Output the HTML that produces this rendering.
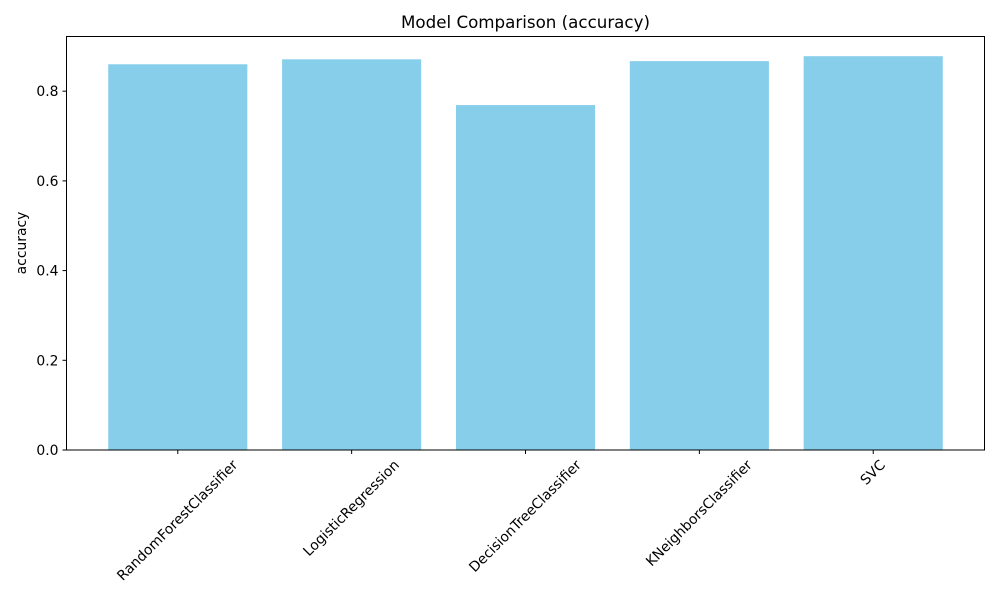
<!DOCTYPE html>
<html><head><meta charset="utf-8"><style>
body{margin:0;background:#fff;}
svg{display:block;font-family:"DejaVu Sans","Liberation Sans",sans-serif;}
</style></head><body>
<svg id="chart" width="1000" height="600">
<text x="525.5" y="28" text-anchor="middle" font-size="16.7">Model Comparison (accuracy)</text>
<text transform="translate(26,243) rotate(-90)" text-anchor="middle" font-size="13.9">accuracy</text>
<g id="bars"></g><g id="yticks"></g><g id="xticks"></g>
<rect x="66.5" y="36.5" width="918" height="413.5" fill="none" stroke="#000" stroke-width="1"/>
</svg>
<script>
const categories=["RandomForestClassifier","LogisticRegression","DecisionTreeClassifier","KNeighborsClassifier","SVC"];
const accuracy=[0.860,0.871,0.769,0.867,0.878];
const yTicks=[0,0.2,0.4,0.6,0.8];
const yTickLabels=["0.0","0.2","0.4","0.6","0.8"];
const NS="http://www.w3.org/2000/svg";
const L=66.5,R=984.5,T=36.5,B=450;
const ymax=Math.max(...accuracy)*1.05;
const y=v=>B-(v/ymax)*(B-T);
const xmin=-0.64,xmax=categories.length-1+0.64;
const x=i=>L+(i-xmin)/(xmax-xmin)*(R-L);
const bw=0.8*(R-L)/(xmax-xmin);
function mk(t,a,p){const e=document.createElementNS(NS,t);for(const k in a)e.setAttribute(k,a[k]);p.appendChild(e);return e;}
const gb=document.getElementById('bars'),gy=document.getElementById('yticks'),gx=document.getElementById('xticks');
accuracy.forEach((v,i)=>{
 const r=mk('rect',{x:x(i)-bw/2,y:y(v),width:bw,height:B-y(v),fill:'#87ceeb'},gb);
 
 
 const tk=mk('line',{x1:x(i),x2:x(i),y1:B,y2:B+4,stroke:'#000'},gx);
 
 
 const t=mk('text',{'text-anchor':'middle','dominant-baseline':'central','font-size':'13.9'},gx);
 t.textContent=categories[i];
 
 
 const w=t.getComputedTextLength(),h=14;
 const half=(w+h)*Math.SQRT1_2/2;
 t.setAttribute('transform',`translate(${x(i)},${B+8+half}) rotate(-45)`);
});
yTicks.forEach((v,i)=>{
 const tk=mk('line',{x1:L-4,x2:L,y1:y(v),y2:y(v),stroke:'#000'},gy);
 
 
 const t=mk('text',{x:L-8,y:y(v)+5,'text-anchor':'end','font-size':'13.9'},gy);
 t.textContent=yTickLabels[i];
 
 
});
</script>
</body></html>
